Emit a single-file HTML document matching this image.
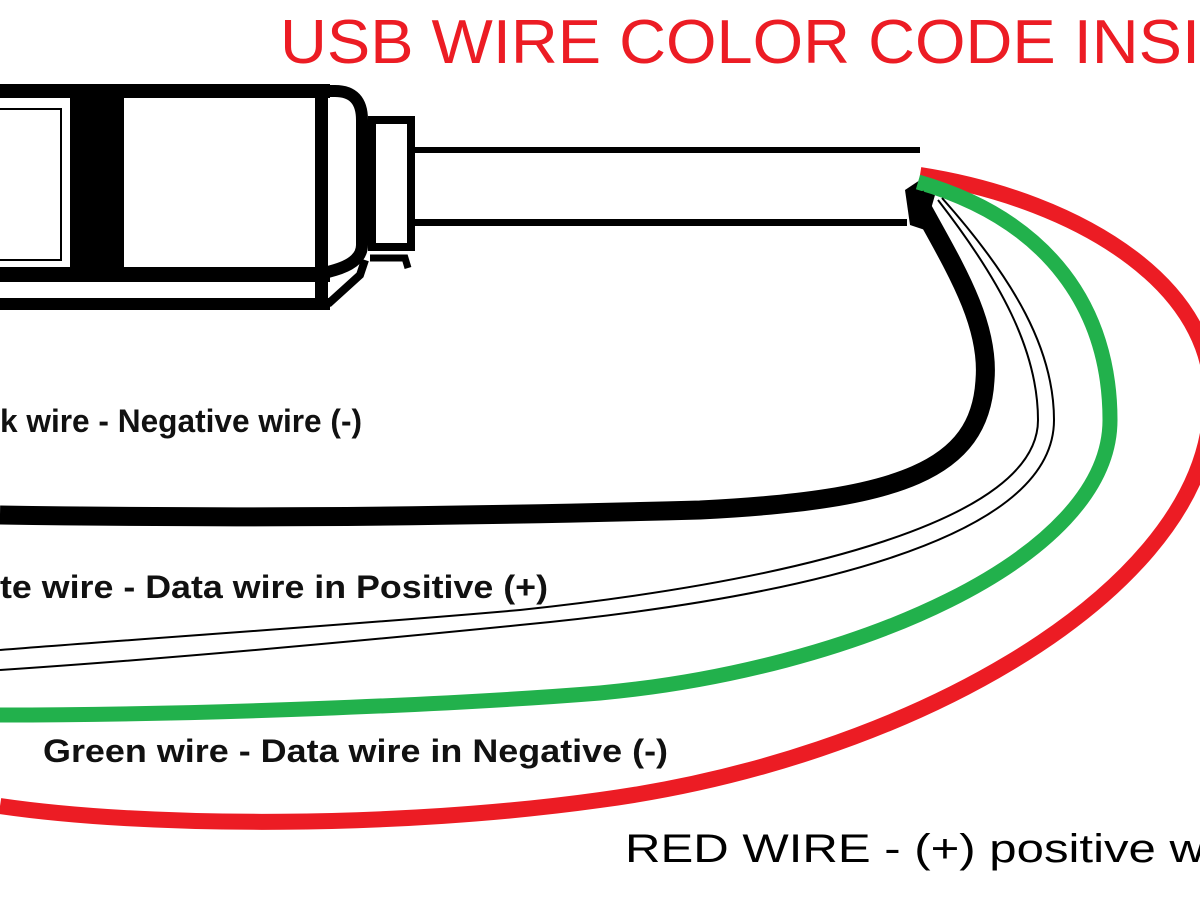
<!DOCTYPE html>
<html><head><style>html,body{margin:0;padding:0;background:#fff;}svg{display:block}</style></head>
<body>
<svg width="1200" height="900" viewBox="0 0 1200 900" xmlns="http://www.w3.org/2000/svg">
<rect width="1200" height="900" fill="#fff"/>
<!-- title -->
<text x="280" y="63" font-family="Liberation Sans, sans-serif" font-size="62" fill="#ec1c24" textLength="920" lengthAdjust="spacingAndGlyphs">USB WIRE COLOR CODE INSI</text>

<!-- connector -->
<g fill="#000">
  <rect x="0" y="84" width="330" height="14"/>
  <rect x="0" y="267" width="330" height="15"/>
  <rect x="0" y="298" width="330" height="12"/>
  <rect x="70" y="98" width="54" height="170"/>
  <rect x="315" y="84" width="13" height="226"/>
  <rect x="0" y="108" width="62" height="2"/>
  <rect x="0" y="259" width="62" height="2"/>
  <rect x="60" y="108" width="2" height="153"/>
</g>
<path d="M328,91 L335,91 Q362,91 362,120 L362,245 Q362,262 335,270 L328,272" fill="none" stroke="#000" stroke-width="12"/>
<path d="M328,304 L360,275 L365,260" fill="none" stroke="#000" stroke-width="8"/>
<rect x="372" y="120" width="39" height="127" fill="none" stroke="#000" stroke-width="8"/>
<path d="M370,258 L405,258 L408,268" fill="none" stroke="#000" stroke-width="7"/>
<!-- cable -->
<rect x="412" y="147" width="508" height="6" fill="#000"/>
<rect x="412" y="219" width="495" height="7" fill="#000"/>
<path d="M905,190 L920,180 L935,195 L925,230 L910,225 Z" fill="#000"/>

<!-- wires -->
<path d="M0,806 C150,828 400,828 600,800 C900,760 1190,600 1210,420 C1230,290 1080,200 920,175" fill="none" stroke="#ec1c24" stroke-width="16"/>
<path d="M0,715 C200,715 450,705 600,693 C850,670 1110,560 1110,420 C1110,310 1050,220 918,182" fill="none" stroke="#22b14c" stroke-width="15"/>
<path d="M0,650 C150,638 350,625 520,610 C800,580 1038,520 1038,420 C1038,350 1000,280 938,200" fill="none" stroke="#000" stroke-width="2"/>
<path d="M0,670 C150,660 350,642 520,625 C800,598 1054,540 1054,420 C1054,350 1015,280 942,198" fill="none" stroke="#000" stroke-width="2"/>
<path d="M0,515 C200,518 400,518 700,510 C900,500 980,470 985,380 C990,320 950,260 915,195" fill="none" stroke="#000" stroke-width="19"/>

<!-- labels -->
<g font-family="Liberation Sans, sans-serif" font-weight="bold" fill="#111" font-size="32">
  <text x="0" y="432" textLength="362" lengthAdjust="spacingAndGlyphs">k wire - Negative wire (-)</text>
  <text x="0" y="598" textLength="548" lengthAdjust="spacingAndGlyphs">te wire - Data wire in Positive (+)</text>
  <text x="43" y="762" textLength="625" lengthAdjust="spacingAndGlyphs">Green wire - Data wire in Negative (-)</text>
</g>
<text x="625" y="862" font-family="Liberation Sans, sans-serif" font-size="40" fill="#000" textLength="580" lengthAdjust="spacingAndGlyphs">RED WIRE - (+) positive w</text>
</svg>
</body></html>
